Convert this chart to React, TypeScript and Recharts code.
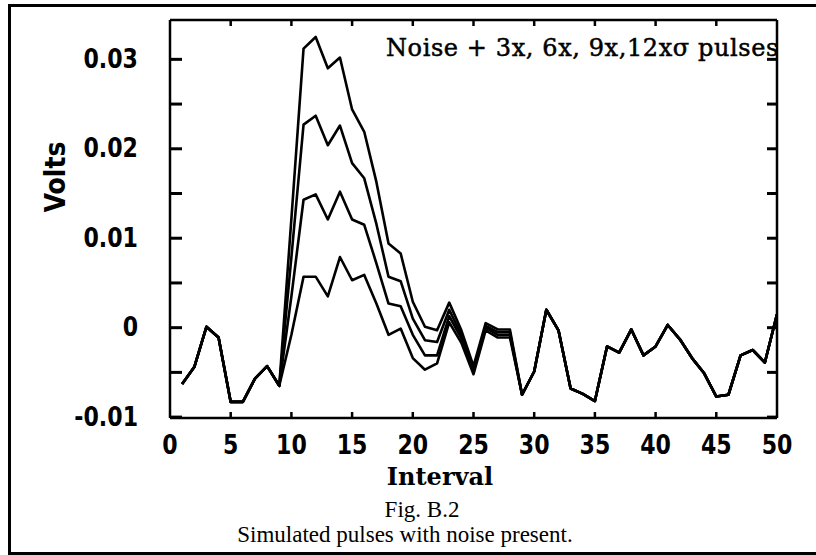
import React from 'react';
import { LineChart, Line, XAxis, YAxis } from 'recharts';

// Interval numbers (x axis categories)
const intervals = [
  1, 2, 3, 4, 5, 6, 7, 8, 9, 10, 11, 12, 13, 14, 15, 16, 17, 18, 19, 20, 21, 22, 23, 24, 25,
  26, 27, 28, 29, 30, 31, 32, 33, 34, 35, 36, 37, 38, 39, 40, 41, 42, 43, 44, 45, 46, 47, 48, 49, 50,
];

// noise only, shared by all curves: intervals 1-9
const noiseHead = [-0.0063, -0.0044, 0.0001, -0.0011, -0.0083, -0.0083, -0.0057, -0.0043, -0.0065];

// noise only, shared by all curves: intervals 29-50
const noiseTail = [
  -0.0075, -0.0049, 0.002, -0.0003, -0.0068, -0.0074, -0.0082, -0.0021, -0.0028, -0.0002, -0.0031,
  -0.0021, 0.0003, -0.0013, -0.0034, -0.0051, -0.0077, -0.0075, -0.0031, -0.0025, -0.0039, 0.0015,
];

// noise + pulse, intervals 10-28
const pulse3 = [
  -0.0008, 0.0057, 0.0057, 0.0035, 0.0079, 0.0053, 0.0059, 0.0027, -0.0008, -0.0001, -0.0034,
  -0.0047, -0.004, 0.0006, -0.0017, -0.0052, -0.0003, -0.0011, -0.0011,
];
const pulse6 = [
  0.0035, 0.0143, 0.0149, 0.0121, 0.0152, 0.0121, 0.0115, 0.0072, 0.0027, 0.0024, -0.0008,
  -0.0031, -0.0031, 0.0013, -0.0012, -0.0049, 0.0, -0.0008, -0.0008,
];
const pulse9 = [
  0.0079, 0.0227, 0.0237, 0.0204, 0.0226, 0.0184, 0.0167, 0.0116, 0.0057, 0.0052, 0.001,
  -0.0014, -0.0016, 0.002, -0.0008, -0.0046, 0.0002, -0.0005, -0.0005,
];
const pulse12 = [
  0.0122, 0.0312, 0.0325, 0.029, 0.0302, 0.0244, 0.0219, 0.0163, 0.0094, 0.0083, 0.0029,
  0.0001, -0.0003, 0.0028, -0.0003, -0.0043, 0.0005, -0.0002, -0.0002,
];

const xTicks = [0, 5, 10, 15, 20, 25, 30, 35, 40, 45, 50];
const yTicks = [-0.01, -0.005, 0, 0.005, 0.01, 0.015, 0.02, 0.025, 0.03];
const yLabels = ['-0.01', '0', '0.01', '0.02', '0.03'];

const seriesKeys = ['s3', 's6', 's9', 's12'];

const data = intervals.map((n) => {
  const row: any = { n };
  const pulses = [pulse3, pulse6, pulse9, pulse12];
  seriesKeys.forEach((k, i) => {
    if (n <= 9) row[k] = noiseHead[n - 1];
    else if (n >= 29) row[k] = noiseTail[n - 29];
    else row[k] = pulses[i][n - 10];
  });
  return row;
});

const tickFont = "'DejaVu Sans', sans-serif";

const fmtY = (v: number) => {
  const s = String(Math.round(v * 1000) / 1000);
  return yLabels.includes(s) ? s : null;
};

// bold, slightly condensed label (old Mac system font look)
const Narrow = ({ x, y, anchor, children }: any) => (
  <text transform={`translate(${x},${y}) scale(0.85,1)`} textAnchor={anchor} dominantBaseline="central"
    fontFamily={tickFont} fontWeight="bold" fontSize={26} fill="#000">
    {children}
  </text>
);

const LeftTick = ({ x, y, payload }: any) => {
  const lbl = fmtY(payload.value);
  return (
    <g>
      <line x1={x} x2={x + 12} y1={y} y2={y} stroke="#000" strokeWidth={3} />
      {lbl && <Narrow x={x - 32} y={y} anchor="end">{lbl}</Narrow>}
    </g>
  );
};

const RightTick = ({ x, y }: any) => (
  <line x1={x - 10} x2={x} y1={y} y2={y} stroke="#000" strokeWidth={3} />
);

const BottomTick = ({ x, y, payload }: any) => (
  <g>
    {payload.value > 0 && payload.value < 50 && (
      <line x1={x} x2={x} y1={y - 6} y2={y} stroke="#000" strokeWidth={2.5} />
    )}
    <Narrow x={x} y={y + 27} anchor="middle">{payload.value}</Narrow>
  </g>
);

const TopTick = ({ x, y, payload }: any) =>
  payload.value > 0 && payload.value < 50 ? (
    <line x1={x} x2={x} y1={y} y2={y + 6} stroke="#000" strokeWidth={2.5} />
  ) : null;

export default function App() {
  return (
    <div style={{ position: 'absolute', left: 0, top: 0, width: 816, height: 555, background: '#fff', overflow: 'hidden' }}>
      <div style={{
        position: 'absolute', left: 8, top: 4, width: 830, height: 545,
        borderLeft: '3px solid #000', borderTop: '3px solid #000', borderBottom: '3px solid #000',
      }} />
      <div style={{ position: 'absolute', left: 0, top: 0 }}>
        <LineChart width={816} height={555} data={data} margin={{ top: 14, right: 29, bottom: 97, left: 110 }}>
          <XAxis xAxisId="b" dataKey="n" type="number" domain={[0, 50]} ticks={xTicks}
            orientation="bottom" height={40} tickSize={0} tickMargin={0}
            axisLine={{ stroke: '#000', strokeWidth: 2.5 }} tickLine={false} tick={<BottomTick />}
            interval={0} allowDataOverflow />
          <XAxis xAxisId="t" dataKey="n" type="number" domain={[0, 50]} ticks={xTicks}
            orientation="top" height={6} tickSize={0} tickMargin={0}
            axisLine={{ stroke: '#000', strokeWidth: 2.5 }} tickLine={false} tick={<TopTick />}
            interval={0} allowDataOverflow />
          <YAxis yAxisId="l" type="number" domain={[-0.0101, 0.0344]} ticks={yTicks}
            orientation="left" width={60} tickSize={0} tickMargin={0}
            axisLine={{ stroke: '#000', strokeWidth: 2.5 }} tickLine={false} tick={<LeftTick />}
            interval={0} allowDataOverflow />
          <YAxis yAxisId="r" type="number" domain={[-0.0101, 0.0344]} ticks={yTicks}
            orientation="right" width={10} tickSize={0} tickMargin={0}
            axisLine={{ stroke: '#000', strokeWidth: 2.5 }} tickLine={false} tick={<RightTick />}
            interval={0} allowDataOverflow />
          {seriesKeys.map((k) => (
            <Line key={k} xAxisId="b" yAxisId="l" type="linear" dataKey={k} stroke="#000"
              strokeWidth={2.6} dot={false} isAnimationActive={false} strokeLinejoin="round" />
          ))}
        </LineChart>
      </div>
      <svg width={816} height={555} style={{ position: 'absolute', left: 0, top: 0, pointerEvents: 'none' }}>
        <text x={386} y={56} fontFamily="'DejaVu Serif', serif" fontSize={24} letterSpacing={0.6}
          fill="#000" stroke="#000" strokeWidth={0.5}>
          Noise + 3x, 6x, 9x,12xσ pulses
        </text>
        <text transform="translate(55,177) rotate(-90) scale(0.9,1)" textAnchor="middle" dominantBaseline="central"
          fontFamily={tickFont} fontWeight="bold" fontSize={28} fill="#000">
          Volts
        </text>
        <text x={440} y={476} textAnchor="middle" dominantBaseline="central"
          fontFamily="'DejaVu Serif', serif" fontWeight="bold" fontSize={24} fill="#000">
          Interval
        </text>
        <text x={422} y={509} textAnchor="middle" dominantBaseline="central"
          fontFamily="'Liberation Serif', serif" fontSize={23} fill="#000">
          Fig. B.2
        </text>
        <text x={405} y={534} textAnchor="middle" dominantBaseline="central"
          fontFamily="'Liberation Serif', serif" fontSize={23} fill="#000">
          Simulated pulses with noise present.
        </text>
      </svg>
    </div>
  );
}
